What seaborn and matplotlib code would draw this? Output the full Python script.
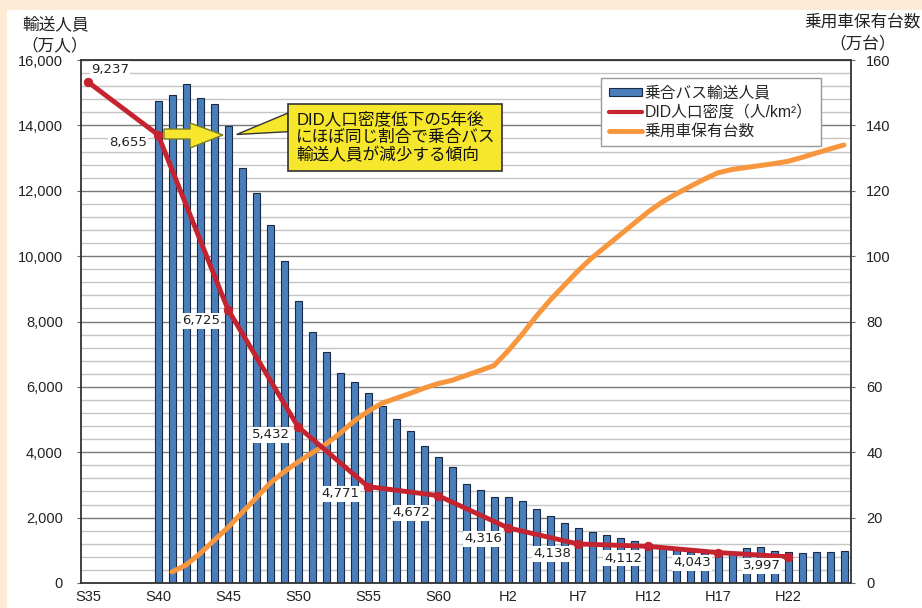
import matplotlib
matplotlib.use('Agg')
import matplotlib.pyplot as plt
import seaborn as sns
import numpy as np
from matplotlib.patches import Patch, Polygon, Rectangle
from matplotlib.lines import Line2D
from matplotlib.ticker import MultipleLocator, FuncFormatter

sns.set_style('white')
plt.rcParams['font.family'] = ['Liberation Sans', 'Noto Sans CJK JP']

# 乗合バス輸送人員 (万人)
bus_years = list(range(1965, 2015))
bus_riders = [14750, 14930, 15260, 14850, 14640, 13980, 12700, 11920, 10950, 9850,
              8640, 7690, 7080, 6430, 6160, 5800, 5430, 5020, 4650, 4200,
              3840, 3560, 3020, 2850, 2640, 2640, 2510, 2260, 2050, 1830,
              1690, 1550, 1470, 1390, 1270, 1190, 1110, 1010, 960, 930,
              990, 960, 1060, 1090, 990, 960, 930, 960, 960, 990]

# DID人口密度 (人/km2)
did_years = [1960, 1965, 1970, 1975, 1980, 1985, 1990, 1995, 2000, 2005, 2010]
did_density = [9237, 8655, 6725, 5432, 4771, 4672, 4316, 4138, 4112, 4043, 3997]

# 乗用車保有台数 (万台)
car_years = list(range(1966, 2015))
car_count = [3.4, 5.5, 9, 13, 17, 21.5, 26, 30.5, 34, 37,
             39.8, 42.5, 45.8, 49.5, 52.5, 55, 56.5, 58, 59.6, 61,
             62, 63.5, 65, 66.5, 71, 76, 81.5, 86.5, 91, 95.5,
             99.5, 103, 106.5, 110, 113.5, 116.5, 119, 121.3, 123.5, 125.5,
             126.5, 127.1, 127.7, 128.3, 129, 130.2, 131.5, 132.8, 134]

tick_years = [1960, 1965, 1970, 1975, 1980, 1985, 1990, 1995, 2000, 2005, 2010]
tick_labels = ['S35', 'S40', 'S45', 'S50', 'S55', 'S60', 'H2', 'H7', 'H12', 'H17', 'H22']

# label offsets (pixels) for the density values
label_offsets = [(22, 13), (-30, -8), (-27, -11), (-27, -8), (-28, -7), (-27, -17),
                 (-25, -11), (-26, -10), (-25, -12), (-26, -10), (-26, -9)]

BLUE = '#4A7EBB'
RED = '#C4232F'
ORANGE = '#F7963C'
YELLOW = '#F6E62C'

fig = plt.figure(figsize=(9.22, 6.08), dpi=100)
fig.patch.set_facecolor('#FDEBD5')
fig.add_artist(Rectangle((7 / 922, 0), 1, 1 - 10 / 608, transform=fig.transFigure,
                         fc='white', ec='none', zorder=-10))

ax = fig.add_axes([81 / 922, 25 / 608, 770 / 922, 523 / 608])
ax_r = ax.twinx()
ax_d = ax.twinx()

sns.barplot(x=bus_years, y=bus_riders, native_scale=True, width=0.5, color=BLUE,
            saturation=1, edgecolor='#1B2A44', linewidth=0.8, ax=ax, zorder=2)
sns.lineplot(x=car_years, y=car_count, color=ORANGE, lw=3.6, ax=ax_r,
             solid_capstyle='round')
sns.lineplot(x=did_years, y=did_density, color=RED, lw=3.5, marker='o', markersize=6,
             markeredgecolor=RED, ax=ax_d)

ax.set_ylim(0, 16000)
ax.yaxis.set_major_locator(MultipleLocator(2000))
ax.yaxis.set_minor_locator(MultipleLocator(400))
ax.yaxis.set_major_formatter(FuncFormatter(lambda v, p: f'{int(v):,}'))
ax.grid(which='major', axis='y', color='#7A7A7A', lw=1)
ax.grid(which='minor', axis='y', color='#C4C4C4', lw=1)
ax.set_axisbelow(True)
ax.set_xlim(1959.5, 2014.5)
ax.set_xticks(tick_years)
ax.set_xticklabels(tick_labels)
ax.set_xticks(np.arange(1959.5, 2015, 1), minor=True)
ax.tick_params(axis='x', which='major', length=0, pad=5, labelsize=10.5, labelcolor='#222')
ax.tick_params(axis='x', which='minor', length=3, color='#999', direction='out')
ax.tick_params(axis='y', which='major', length=3, pad=10, labelsize=10.5,
               labelcolor='#222', color='#666', left=True)
ax.tick_params(axis='y', which='minor', length=0)
ax.set_xlabel('')
ax.set_ylabel('')
for s in ax.spines.values():
    s.set_color('#333')
    s.set_linewidth(1.3)

ax_r.set_ylim(0, 160)
ax_r.yaxis.set_major_locator(MultipleLocator(20))
ax_r.tick_params(axis='y', length=3, pad=8, labelsize=10.5, labelcolor='#222',
                 color='#666', right=True)
ax_r.set_ylabel('')
for s in ax_r.spines.values():
    s.set_visible(False)

ax_d.set_ylim(3707, 9480)
ax_d.set_yticks([])
ax_d.set_ylabel('')
for s in ax_d.spines.values():
    s.set_visible(False)

for yr, val, off in zip(did_years, did_density, label_offsets):
    ax_d.annotate(f'{val:,}', (yr, val), xytext=off, textcoords='offset pixels',
                  ha='center', va='center', fontsize=9.5, family='DejaVu Sans',
                  color='#222', zorder=6,
                  bbox=dict(fc='white', ec='none', pad=1.0))

# callout box
tr = ax.transData
ax_d.add_patch(Polygon([(1970.62, 13721), (1974.29, 14379), (1974.29, 13807)],
                       closed=True, fc=YELLOW, ec='#333', lw=1, transform=tr, zorder=7))
ax_d.add_patch(Rectangle((1974.29, 12604), 15.28, 2049, fc=YELLOW, ec='#333', lw=1.2,
                         transform=tr, zorder=8))
ax_d.text(1982.0, 13628, 'DID人口密度低下の5年後\nにほぼ同じ割合で乗合バス\n輸送人員が減少する傾向',
          transform=tr, ha='center', va='center', multialignment='left',
          fontsize=12, linespacing=1.15, color='#111', zorder=9)
# block arrow
ax_d.add_patch(Polygon([(1965.43, 13889), (1967.29, 13889), (1967.29, 14073),
                        (1969.64, 13706), (1967.29, 13308), (1967.29, 13583),
                        (1965.43, 13583)],
                       closed=True, fc=YELLOW, ec='#7A7A2A', lw=1, transform=tr, zorder=7))
ax_d.set_ylim(3707, 9480)
ax_d.set_xlim(1959.5, 2014.5)

handles = [Patch(fc=BLUE, ec='#1B2A44', lw=0.8),
           Line2D([], [], color=RED, lw=3),
           Line2D([], [], color=ORANGE, lw=3.5)]
labels = ['乗合バス輸送人員', 'DID人口密度（人/km²）', '乗用車保有台数']
leg = ax_d.legend(handles, labels, loc='upper left', bbox_to_anchor=(593 / 922, 1 - 70 / 608),
                  bbox_transform=fig.transFigure, fontsize=11.3, frameon=True,
                  fancybox=False, framealpha=1, edgecolor='#999', handlelength=2.1,
                  handleheight=0.4, handletextpad=0.2, labelspacing=0.25,
                  borderpad=0.5)
leg.get_frame().set_linewidth(1)
leg.set_zorder(20)

fig.text(56 / 922, 1 - 24 / 608, '輸送人員', ha='center', va='center', fontsize=12, color='#222')
fig.text(55 / 922, 1 - 45 / 608, '（万人）', ha='center', va='center', fontsize=12, color='#222')
fig.text(921 / 922, 1 - 22 / 608, '乗用車保有台数', ha='right', va='center', fontsize=12, color='#222')
fig.text(863 / 922, 1 - 43 / 608, '（万台）', ha='center', va='center', fontsize=12, color='#222')

fig.savefig('out.png', dpi=100)
